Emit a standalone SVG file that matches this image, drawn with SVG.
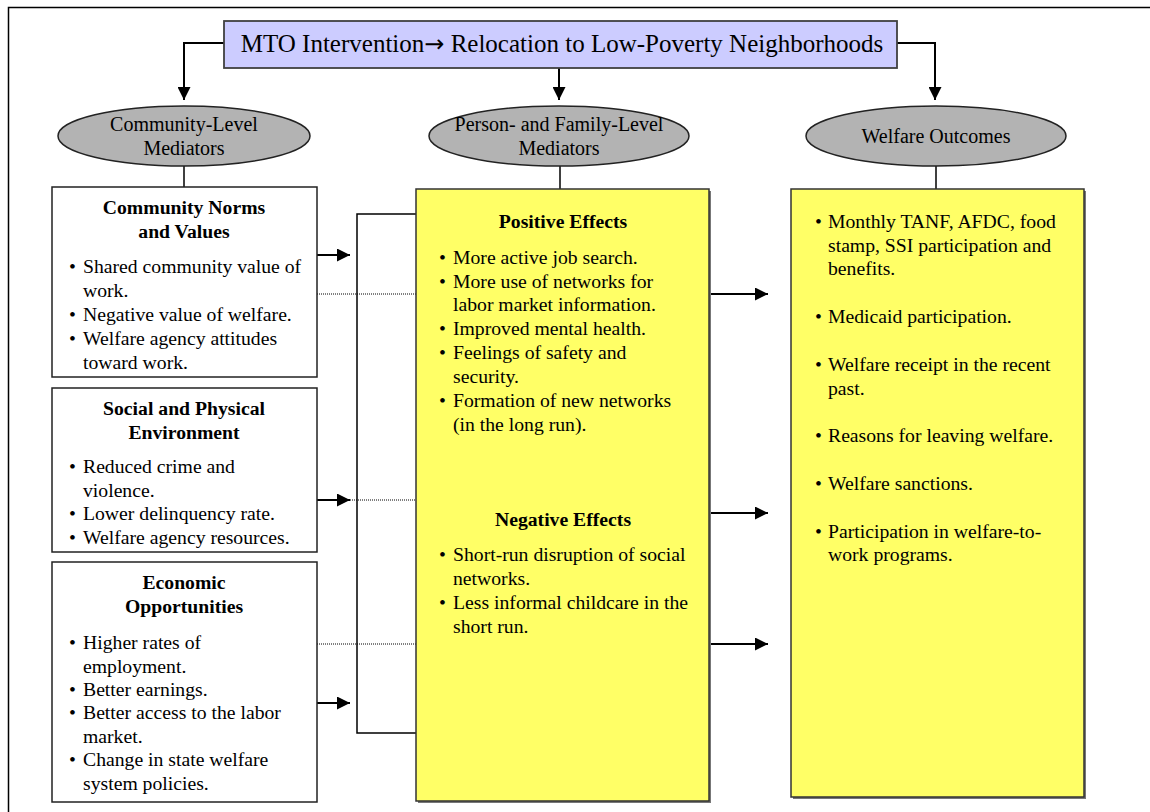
<svg xmlns="http://www.w3.org/2000/svg" width="1150" height="812" viewBox="0 0 1150 812">
<style>
.t{font-family:"Liberation Serif","Times New Roman",serif;font-size:19.7px;fill:#000}
.b{font-weight:bold}
.m{text-anchor:middle}
.conn{stroke:#000;stroke-width:2;fill:none}
.thin{stroke:#000;stroke-width:1.5;fill:none}
.dot{stroke:#000;stroke-width:1;stroke-dasharray:1 1;fill:none}
.box{fill:#fff;stroke:#222;stroke-width:1.5}
.ybox{fill:#ffff66;stroke:#333;stroke-width:1.5}
.ell{fill:#b3b3b3;stroke:#222;stroke-width:1.5}
.top{fill:#ccccff;stroke:#404040;stroke-width:1.8}
.shadow{fill:#777}
</style>
<defs>
<marker id="ah" viewBox="0 0 10 10" refX="10" refY="5" markerWidth="14" markerHeight="13" markerUnits="userSpaceOnUse" orient="auto">
<path d="M0,0 L10,5 L0,10 z" fill="#000"/>
</marker>
</defs>
<rect width="1150" height="812" fill="#fff"/>
<path d="M8.5,812 V7.5 H1150" class="thin"/>

<g id="connectors">
<path d="M224,43 H184 V100" class="conn" marker-end="url(#ah)"/>
<path d="M559,68 V100" class="conn" marker-end="url(#ah)"/>
<path d="M897,43 H935 V100" class="conn" marker-end="url(#ah)"/>
<path d="M184,166 V187" class="thin"/>
<path d="M560,166 V189" class="thin"/>
<path d="M936,166 V189" class="thin"/>
<path d="M416,214 H357 V733 H416" class="thin"/>
<path d="M317,255 H350" class="conn" marker-end="url(#ah)"/>
<path d="M317,500 H350" class="conn" marker-end="url(#ah)"/>
<path d="M317,703 H350" class="conn" marker-end="url(#ah)"/>
<path d="M317,294 H416" class="dot"/>
<path d="M350,500 H416" class="dot"/>
<path d="M317,644 H416" class="dot"/>
<path d="M709,294 H768" class="conn" marker-end="url(#ah)"/>
<path d="M709,513 H768" class="conn" marker-end="url(#ah)"/>
<path d="M709,644 H768" class="conn" marker-end="url(#ah)"/>
</g>

<g id="intervention">
<rect x="224" y="21" width="673" height="47" class="top"/>
<text x="562" y="52" class="t m" style="font-size:25px">MTO Intervention<tspan style="font-family:'DejaVu Sans',sans-serif;font-size:24px">→</tspan> Relocation to Low-Poverty Neighborhoods</text>
</g>

<g id="community-mediators">
<ellipse cx="184" cy="136" rx="126" ry="30" class="ell"/>
<text x="184" y="131" class="t m" style="font-size:20px">Community-Level</text>
<text x="184" y="155" class="t m" style="font-size:20px">Mediators</text>
</g>

<g id="person-mediators">
<ellipse cx="559" cy="136" rx="130" ry="30" class="ell"/>
<text x="559" y="131" class="t m" style="font-size:20px">Person- and Family-Level</text>
<text x="559" y="155" class="t m" style="font-size:20px">Mediators</text>
</g>

<g id="welfare-outcomes-ellipse">
<ellipse cx="936" cy="136" rx="130" ry="30" class="ell"/>
<text x="936" y="143" class="t m" style="font-size:20px">Welfare Outcomes</text>
</g>

<g id="norms">
<rect x="52" y="187" width="265" height="190" class="box"/>
<text x="184" y="214" class="t b m">Community Norms</text>
<text x="184" y="238" class="t b m">and Values</text>
<text x="69" y="273" class="t">•</text><text x="83" y="273" class="t">Shared community value of</text>
<text x="83" y="297" class="t">work.</text>
<text x="69" y="321" class="t">•</text><text x="83" y="321" class="t">Negative value of welfare.</text>
<text x="69" y="345" class="t">•</text><text x="83" y="345" class="t">Welfare agency attitudes</text>
<text x="83" y="369" class="t">toward work.</text>
</g>

<g id="environment">
<rect x="52" y="388" width="265" height="164" class="box"/>
<text x="184" y="415" class="t b m">Social and Physical</text>
<text x="184" y="439" class="t b m">Environment</text>
<text x="69" y="473" class="t">•</text><text x="83" y="473" class="t">Reduced crime and</text>
<text x="83" y="497" class="t">violence.</text>
<text x="69" y="520" class="t">•</text><text x="83" y="520" class="t">Lower delinquency rate.</text>
<text x="69" y="544" class="t">•</text><text x="83" y="544" class="t">Welfare agency resources.</text>
</g>

<g id="economic">
<rect x="52" y="562" width="265" height="240" class="box"/>
<text x="184" y="589" class="t b m">Economic</text>
<text x="184" y="613" class="t b m">Opportunities</text>
<text x="69" y="649" class="t">•</text><text x="83" y="649" class="t">Higher rates of</text>
<text x="83" y="673" class="t">employment.</text>
<text x="69" y="696" class="t">•</text><text x="83" y="696" class="t">Better earnings.</text>
<text x="69" y="719" class="t">•</text><text x="83" y="719" class="t">Better access to the labor</text>
<text x="83" y="743" class="t">market.</text>
<text x="69" y="766" class="t">•</text><text x="83" y="766" class="t">Change in state welfare</text>
<text x="83" y="790" class="t">system policies.</text>
</g>

<g id="effects">
<rect x="418" y="191" width="293" height="612" class="shadow"/>
<rect x="416" y="189" width="293" height="612" class="ybox"/>
<text x="563" y="228" class="t b m">Positive Effects</text>
<text x="439" y="264" class="t">•</text><text x="453" y="264" class="t">More active job search.</text>
<text x="439" y="288" class="t">•</text><text x="453" y="288" class="t">More use of networks for</text>
<text x="453" y="311" class="t">labor market information.</text>
<text x="439" y="335" class="t">•</text><text x="453" y="335" class="t">Improved mental health.</text>
<text x="439" y="359" class="t">•</text><text x="453" y="359" class="t">Feelings of safety and</text>
<text x="453" y="383" class="t">security.</text>
<text x="439" y="407" class="t">•</text><text x="453" y="407" class="t">Formation of new networks</text>
<text x="453" y="431" class="t">(in the long run).</text>
<text x="563" y="526" class="t b m">Negative Effects</text>
<text x="439" y="561" class="t">•</text><text x="453" y="561" class="t">Short-run disruption of social</text>
<text x="453" y="585" class="t">networks.</text>
<text x="439" y="609" class="t">•</text><text x="453" y="609" class="t">Less informal childcare in the</text>
<text x="453" y="633" class="t">short run.</text>
</g>

<g id="outcomes">
<rect x="793" y="191" width="293" height="608" class="shadow"/>
<rect x="791" y="189" width="293" height="608" class="ybox"/>
<text x="815" y="228" class="t">•</text><text x="828" y="228" class="t">Monthly TANF, AFDC, food</text>
<text x="828" y="252" class="t">stamp, SSI participation and</text>
<text x="828" y="275" class="t">benefits.</text>
<text x="815" y="323" class="t">•</text><text x="828" y="323" class="t">Medicaid participation.</text>
<text x="815" y="371" class="t">•</text><text x="828" y="371" class="t">Welfare receipt in the recent</text>
<text x="828" y="395" class="t">past.</text>
<text x="815" y="442" class="t">•</text><text x="828" y="442" class="t">Reasons for leaving welfare.</text>
<text x="815" y="490" class="t">•</text><text x="828" y="490" class="t">Welfare sanctions.</text>
<text x="815" y="538" class="t">•</text><text x="828" y="538" class="t">Participation in welfare-to-</text>
<text x="828" y="561" class="t">work programs.</text>
</g>
</svg>
